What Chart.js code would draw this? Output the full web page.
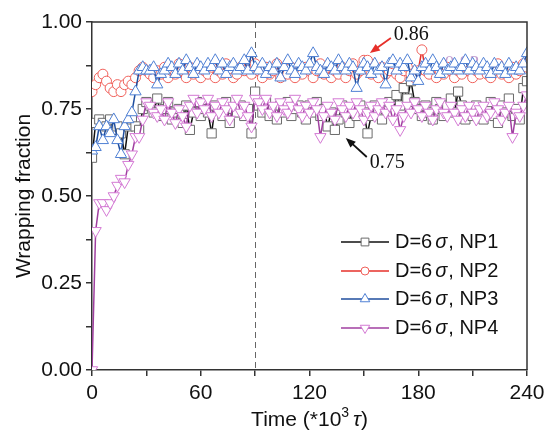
<!DOCTYPE html>
<html>
<head>
<meta charset="utf-8">
<script src="https://cdn.jsdelivr.net/npm/chart.js@4/dist/chart.umd.min.js"></script>
<style>
  html, body { margin: 0; padding: 0; background: #fff; }
</style>
</head>
<body>
<canvas id="myChart" width="544" height="432"></canvas>
<script>
'use strict';

// time axis, units of 10^3 tau
const times = [0,2,4,6,8,10,12,14,16,18,20,22,24,26,28,30,32,34,36,38,40,42,44,46,48,50,52,54,56,58,60,
  62,64,66,68,70,72,74,76,78,80,82,84,86,88,90,92,94,96,98,100,102,104,106,108,110,112,114,116,118,120,
  122,124,126,128,130,132,134,136,138,140,142,144,146,148,150,152,154,156,158,160,162,164,166,168,170,172,174,176,178,180,
  182,184,186,188,190,192,194,196,198,200,202,204,206,208,210,212,214,216,218,220,222,224,226,228,230,232,234,236,238,240];

const np1 = [0.61,0.71,0.72,0.71,0.70,0.72,0.69,0.70,0.68,0.62,0.70,0.72,0.70,0.69,0.75,0.77,
  0.76,0.74,0.78,0.73,0.75,0.77,0.72,0.74,0.75,0.71,0.76,0.69,0.74,0.77,0.73,
  0.75,0.74,0.68,0.76,0.75,0.73,0.77,0.71,0.75,0.74,0.76,0.73,0.75,0.68,0.80,
  0.76,0.74,0.77,0.73,0.75,0.72,0.76,0.74,0.77,0.73,0.75,0.76,0.74,0.72,0.76,
  0.74,0.77,0.73,0.75,0.70,0.74,0.69,0.72,0.76,0.74,0.71,0.75,0.73,0.76,0.74,
  0.68,0.73,0.76,0.74,0.72,0.75,0.77,0.74,0.79,0.76,0.81,0.78,0.83,0.77,0.75,
  0.73,0.76,0.74,0.72,0.77,0.75,0.73,0.76,0.78,0.74,0.80,0.76,0.72,0.75,0.73,
  0.76,0.74,0.72,0.75,0.77,0.73,0.71,0.76,0.74,0.78,0.73,0.75,0.72,0.81,0.83];

const np2 = [0.80,0.82,0.84,0.85,0.83,0.81,0.80,0.82,0.80,0.82,0.83,0.82,0.84,0.86,0.87,0.86,
  0.85,0.84,0.86,0.85,0.87,0.84,0.86,0.85,0.88,0.86,0.84,0.87,0.85,0.86,0.84,
  0.86,0.85,0.87,0.84,0.86,0.85,0.88,0.86,0.84,0.85,0.87,0.86,0.89,0.85,0.88,
  0.86,0.84,0.87,0.85,0.86,0.88,0.84,0.86,0.85,0.87,0.84,0.86,0.85,0.87,0.86,
  0.84,0.86,0.88,0.85,0.87,0.84,0.86,0.85,0.87,0.84,0.86,0.88,0.85,0.86,0.89,
  0.89,0.85,0.86,0.84,0.87,0.85,0.86,0.88,0.85,0.84,0.86,0.87,0.85,0.84,0.86,
  0.92,0.86,0.85,0.87,0.84,0.86,0.85,0.87,0.86,0.84,0.86,0.85,0.87,0.86,0.84,
  0.86,0.85,0.87,0.85,0.84,0.86,0.88,0.85,0.86,0.84,0.87,0.85,0.86,0.88,0.87];

const np3 = [0.63,0.64,0.70,0.66,0.70,0.68,0.72,0.66,0.62,0.70,0.72,0.74,0.80,0.86,0.87,0.86,
  0.86,0.87,0.82,0.85,0.86,0.88,0.87,0.85,0.88,0.86,0.89,0.87,0.85,0.88,0.87,
  0.86,0.88,0.87,0.89,0.86,0.88,0.85,0.87,0.88,0.86,0.87,0.89,0.86,0.91,0.87,
  0.86,0.88,0.85,0.87,0.86,0.88,0.84,0.87,0.89,0.86,0.85,0.88,0.87,0.86,0.88,
  0.91,0.87,0.86,0.85,0.88,0.87,0.86,0.89,0.87,0.86,0.88,0.87,0.81,0.86,0.88,
  0.87,0.85,0.88,0.86,0.87,0.82,0.88,0.89,0.86,0.88,0.87,0.89,0.84,0.86,0.83,
  0.87,0.88,0.86,0.89,0.87,0.85,0.88,0.86,0.87,0.88,0.86,0.87,0.89,0.86,0.88,
  0.87,0.86,0.88,0.87,0.85,0.88,0.86,0.87,0.85,0.88,0.86,0.87,0.86,0.88,0.91];

const np4 = [0.00,0.40,0.48,0.48,0.46,0.48,0.50,0.53,0.55,0.54,0.59,0.62,0.67,0.67,0.72,0.77,
  0.76,0.74,0.73,0.75,0.72,0.77,0.74,0.71,0.75,0.73,0.70,0.76,0.78,0.74,0.77,
  0.75,0.78,0.73,0.76,0.74,0.77,0.75,0.72,0.76,0.78,0.74,0.76,0.73,0.70,0.78,
  0.77,0.75,0.78,0.74,0.76,0.73,0.77,0.75,0.74,0.76,0.78,0.75,0.73,0.76,0.74,
  0.77,0.75,0.67,0.73,0.76,0.74,0.72,0.77,0.75,0.73,0.76,0.74,0.77,0.75,0.72,
  0.74,0.76,0.73,0.75,0.77,0.74,0.76,0.72,0.75,0.69,0.73,0.76,0.74,0.77,0.75,
  0.73,0.76,0.74,0.72,0.75,0.77,0.74,0.73,0.76,0.74,0.72,0.75,0.73,0.76,0.74,
  0.72,0.75,0.76,0.73,0.74,0.77,0.75,0.72,0.74,0.76,0.67,0.74,0.73,0.76,0.79];

const seriesNames = ['NP1', 'NP2', 'NP3', 'NP4'];
const dashedAt = 90;

const SANS = '"Liberation Sans", Arial, sans-serif';
const SERIF = '"Liberation Serif", "Times New Roman", serif';

function toPoints(ys) {
  return ys.map((y, i) => ({x: times[i], y: y}));
}

const styles = [
  {line: '#111111', mark: '#6a6a6a', shape: 'rect', r: 6.5, rot: 0},
  {line: '#e6302a', mark: '#f0605a', shape: 'circle', r: 5, rot: 0},
  {line: '#1f4e9e', mark: '#4f80d4', shape: 'triangle', r: 6.5, rot: 0},
  {line: '#a03fa0', mark: '#d47ad4', shape: 'triangle', r: 6.5, rot: 180}
];

const allSeries = [np1, np2, np3, np4];

const datasets = allSeries.map((ys, k) => ({
  label: 'D=6σ, ' + seriesNames[k],
  data: toPoints(ys),
  borderColor: styles[k].line,
  borderWidth: 1.5,
  pointStyle: styles[k].shape,
  pointRotation: styles[k].rot,
  pointRadius: styles[k].r,
  pointBorderColor: styles[k].mark,
  pointBorderWidth: 1,
  pointBackgroundColor: '#ffffff',
  tension: 0,
  order: 4 - k   // later series on top
}));

// draws frame, dashed line, legend, arrows and axis titles
const decorPlugin = {
  id: 'decor',
  beforeDatasetsDraw(chart) {
    const {ctx, chartArea: a, scales: {x, y}} = chart;
    ctx.save();
    // dashed marker line
    ctx.strokeStyle = '#666';
    ctx.lineWidth = 1;
    ctx.setLineDash([6, 4]);
    const dx = Math.round(x.getPixelForValue(dashedAt)) + 0.5;
    ctx.beginPath();
    ctx.moveTo(dx, a.top);
    ctx.lineTo(dx, a.bottom);
    ctx.stroke();
    ctx.setLineDash([]);
    // faint label hidden behind the markers
    ctx.fillStyle = 'rgba(150,90,175,0.6)';
    ctx.font = '20px ' + SERIF;
    ctx.textBaseline = 'middle';
    ctx.fillText('0.83', x.getPixelForValue(194.5), y.getPixelForValue(0.876));
    ctx.restore();
  },
  afterDraw(chart) {
    const {ctx, chartArea: a, scales: {x, y}} = chart;
    ctx.save();

    // frame top + right
    ctx.strokeStyle = '#333';
    ctx.lineWidth = 1.5;
    ctx.beginPath();
    ctx.moveTo(a.left, a.top);
    ctx.lineTo(a.right, a.top);
    ctx.lineTo(a.right, a.bottom);
    ctx.stroke();

    // legend
    const lx0 = 341, lx1 = 389, tx = 395;
    const rowY = [242, 271, 299, 328];
    styles.forEach((s, k) => {
      const yy = rowY[k];
      ctx.strokeStyle = s.line;
      ctx.lineWidth = 1.5;
      ctx.beginPath();
      ctx.moveTo(lx0, yy);
      ctx.lineTo(lx1, yy);
      ctx.stroke();
      ctx.fillStyle = '#fff';
      ctx.strokeStyle = s.mark;
      ctx.lineWidth = 1;
      Chart.helpers.drawPoint(ctx, {pointStyle: s.shape, radius: s.r - 1, rotation: s.rot, borderWidth: 1}, (lx0 + lx1) / 2, yy);
      ctx.fillStyle = '#111';
      ctx.textBaseline = 'middle';
      ctx.font = '20px ' + SANS;
      let cx = tx;
      ctx.fillText('D=6', cx, yy);
      cx += ctx.measureText('D=6').width + 3;
      ctx.font = 'italic 20px ' + SANS;
      ctx.fillText('σ', cx, yy);
      cx += ctx.measureText('σ').width + 1;
      ctx.font = '20px ' + SANS;
      ctx.fillText(', ' + seriesNames[k], cx, yy);
    });

    // annotations
    function arrow(x0, y0, x1, y1, color) {
      const px0 = x.getPixelForValue(x0), py0 = y.getPixelForValue(y0);
      const px1 = x.getPixelForValue(x1), py1 = y.getPixelForValue(y1);
      const ang = Math.atan2(py1 - py0, px1 - px0);
      ctx.strokeStyle = color;
      ctx.fillStyle = color;
      ctx.lineWidth = 1.8;
      ctx.beginPath();
      ctx.moveTo(px0, py0);
      ctx.lineTo(px1 - 6 * Math.cos(ang), py1 - 6 * Math.sin(ang));
      ctx.stroke();
      ctx.beginPath();
      ctx.moveTo(px1, py1);
      ctx.lineTo(px1 - 10 * Math.cos(ang) + 4 * Math.sin(ang), py1 - 10 * Math.sin(ang) - 4 * Math.cos(ang));
      ctx.lineTo(px1 - 10 * Math.cos(ang) - 4 * Math.sin(ang), py1 - 10 * Math.sin(ang) + 4 * Math.cos(ang));
      ctx.closePath();
      ctx.fill();
    }
    arrow(164.9, 0.954, 153.3, 0.911, '#e6302a');
    arrow(151.6, 0.612, 140, 0.667, '#111');
    ctx.font = '20px ' + SERIF;
    ctx.fillStyle = '#111';
    ctx.textBaseline = 'middle';
    ctx.fillText('0.86', x.getPixelForValue(166.5), y.getPixelForValue(0.962));
    ctx.fillText('0.75', x.getPixelForValue(153.2), y.getPixelForValue(0.595));

    // y title
    ctx.save();
    ctx.translate(24, (a.top + a.bottom) / 2);
    ctx.rotate(-Math.PI / 2);
    ctx.textAlign = 'center';
    ctx.textBaseline = 'middle';
    ctx.font = '21px ' + SANS;
    ctx.fillStyle = '#111';
    ctx.fillText('Wrapping fraction', 0, 0);
    ctx.restore();

    // x title: Time (*10^3 tau)
    const parts = [
      {t: 'Time (*10', f: '21px ' + SANS, dy: 0},
      {t: '3', f: '14px ' + SANS, dy: -7},
      {t: ' ', f: '14px ' + SANS, dy: 0},
      {t: 'τ', f: 'italic 21px ' + SANS, dy: 0},
      {t: ')', f: '21px ' + SANS, dy: 0}
    ];
    let total = 0;
    parts.forEach(p => { ctx.font = p.f; p.w = ctx.measureText(p.t).width; total += p.w; });
    let px = (a.left + a.right) / 2 - total / 2;
    const ty = 420;
    ctx.fillStyle = '#111';
    ctx.textAlign = 'left';
    ctx.textBaseline = 'middle';
    parts.forEach(p => { ctx.font = p.f; ctx.fillText(p.t, px, ty + p.dy); px += p.w; });

    ctx.restore();
  }
};

const ctxMap = document.getElementById('myChart');
const chart = new Chart(ctxMap, {
  type: 'line',
  data: { datasets: datasets },
  options: {
    responsive: false,
    animation: false,
    devicePixelRatio: 1,
    layout: { padding: { top: 22, right: 17, left: 0, bottom: 0 } },
    plugins: { legend: { display: false }, tooltip: { enabled: false } },
    scales: {
      x: {
        type: 'linear',
        min: 0, max: 240,
        // let the last tick label hang past the edge like the original
        afterFit: s => { s.height = 62; s.paddingRight = 0; s.paddingLeft = 0; },
        border: { display: true, color: '#333', width: 1.5 },
        grid: { drawOnChartArea: false, drawTicks: true, tickLength: 6, color: '#333', lineWidth: 1.5 },
        ticks: {
          stepSize: 30, autoSkip: false, maxRotation: 0, padding: 5,
          color: '#111', font: { family: SANS, size: 21 },
          callback: v => (v % 60 === 0 ? String(v) : '')
        }
      },
      y: {
        min: 0, max: 1,
        afterFit: s => { s.width = 92; },
        border: { display: true, color: '#333', width: 1.5 },
        grid: { drawOnChartArea: false, drawTicks: true, tickLength: 6, color: '#333', lineWidth: 1.5 },
        ticks: {
          stepSize: 0.125, autoSkip: false, padding: 4,
          color: '#111', font: { family: SANS, size: 21 },
          callback: v => (Math.abs(v * 4 - Math.round(v * 4)) < 1e-6 ? v.toFixed(2) : '')
        }
      }
    }
  },
  plugins: [decorPlugin]
});
</script>
</body>
</html>
